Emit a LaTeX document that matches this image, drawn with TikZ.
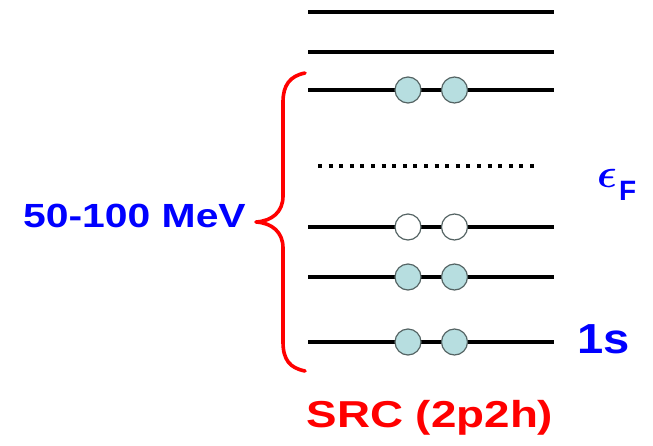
\documentclass[tikz,border=0pt]{standalone}
\usepackage{fontspec}
\newfontfamily\lvlfont{Liberation Sans}
\usepackage{graphicx}
\usepackage{tikz}
\usetikzlibrary{calc}
\definecolor{partfill}{RGB}{183,222,224}
\definecolor{partedge}{RGB}{85,100,100}
\definecolor{lblblue}{RGB}{0,0,255}
\definecolor{lblred}{RGB}{255,0,0}
\tikzset{
 lvl line/.style={line width=4pt},
 lvl dotted/.style={line width=4pt,dash pattern=on 4pt off 6.6pt},
 lvl particle/.style={circle,fill=partfill,draw=partedge,line width=1.2pt,
                      minimum size=26pt,inner sep=0pt,outer sep=0pt},
 lvl hole/.style={lvl particle,fill=white},
 lvl brace/.style={line width=3.6pt,lblred,line cap=round,line join=round},
 lvl label/.style={font=\lvlfont\bfseries,inner sep=0pt,anchor=base,xscale=1.22}
}
\begin{document}
\begin{tikzpicture}[x=1pt,y=-1pt]
 \useasboundingbox (0,0) rectangle (653,445);
 % levels
 \coordinate (l1) at (308,12);   \coordinate (r1) at (554,12);
 \coordinate (l2) at (308,52);   \coordinate (r2) at (554,52);
 \coordinate (l3) at (308,90);   \coordinate (r3) at (554,90);
 \coordinate (l4) at (308,227);  \coordinate (r4) at (554,227);
 \coordinate (l5) at (308,277);  \coordinate (r5) at (554,277);
 \coordinate (l6) at (308,342);  \coordinate (r6) at (554,342);
 \coordinate (fl) at (318,166);  \coordinate (fr) at (539,166);

 \foreach \i in {1,...,6} \draw[lvl line] (l\i)--(r\i);
 \draw[lvl dotted] (fl)--(fr);

 % nucleons
 \foreach \i in {3,5,6} {
   \node[lvl particle] (pa\i) at ($(l\i)+(100,0)$) {};
   \node[lvl particle] (pb\i) at ($(l\i)+(146.5,0)$) {};
 }
 \node[lvl hole] (ha4) at ($(l4)+(100,0)$) {};
 \node[lvl hole] (hb4) at ($(l4)+(146.5,0)$) {};

 % brace
 \coordinate (bt) at (305,73);
 \coordinate (bb) at (305,371);
 \coordinate (bm) at (256,222);
 \draw[lvl brace] (bt) .. controls (290,76) and (283,85) .. (283,102)
   -- (283,196) .. controls (283,212) and (272,221) .. (bm)
   .. controls (272,223) and (283,232) .. (283,248)
   -- (283,342) .. controls (283,360) and (290,368) .. (bb);

 % labels
 \node[lvl label,text=lblblue,font=\lvlfont\bfseries\fontsize{33.5}{36}\selectfont]
   (range) at (134.5,227) {50-100 MeV};
 \node[lvl label,text=lblred,font=\lvlfont\bfseries\fontsize{37.5}{40}\selectfont]
   (src) at (430,427) {SRC (2p2h)};
 \node[lvl label,text=lblblue,xscale=0.92,font=\lvlfont\bfseries\fontsize{42}{44}\selectfont]
   (one) at (603.5,353) {1s};
 \node[inner sep=0pt,anchor=base west,text=lblblue] (ef) at (597,187)
   {\scalebox{4.1}{\boldmath$\epsilon$}\kern2pt\raisebox{-13pt}{\lvlfont\bfseries\fontsize{28}{28}\selectfont F}};
\end{tikzpicture}
\end{document}
